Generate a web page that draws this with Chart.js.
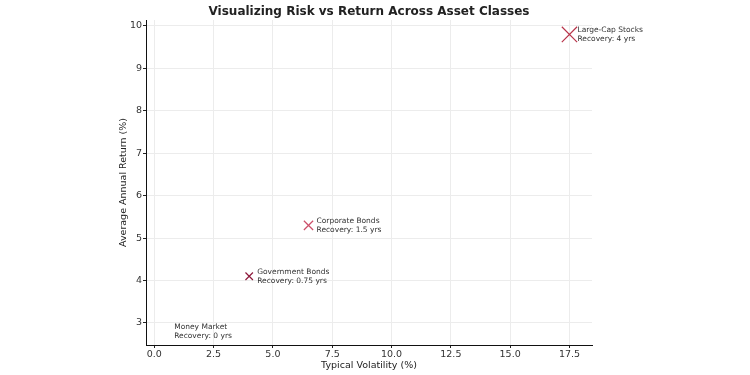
<!DOCTYPE html>
<html>
<head>
<meta charset="utf-8">
<script src="https://cdn.jsdelivr.net/npm/chart.js@4.4.1/dist/chart.umd.min.js"></script>
<style>
  html, body { margin: 0; padding: 0; background: #fff; }
  #wrap { width: 750px; height: 375px; }
</style>
</head>
<body>
<div id="wrap"><canvas id="riskChart" width="750" height="375"></canvas></div>
<script>
var assets = ["Money Market", "Government Bonds", "Corporate Bonds", "Large-Cap Stocks"];
var volatility = [0.5, 4, 6.5, 17.5];
var annualReturn = [2.8, 4.1, 5.3, 9.8];
var recoveryYears = [0, 0.75, 1.5, 4];
var markerColors = ["#b03050", "#8e1a3c", "#cc4f6a", "#b8344a"];
var xTicks = [0, 2.5, 5, 7.5, 10, 12.5, 15, 17.5];
var yTicks = [3, 4, 5, 6, 7, 8, 9, 10];

var FONT = "'DejaVu Sans', sans-serif";
var TITLE = "Visualizing Risk vs Return Across Asset Classes";

// marker size grows with recovery time
function markerRadius(yrs) {
    if (yrs <= 0) return 0;
    return 4 + yrs * 1.7;
}

var points = volatility.map(function (v, i) {
    return { x: v, y: annualReturn[i] };
});

// title centred over the plot area, like matplotlib does it
var plotTitle = {
    id: 'plotTitle',
    afterDraw: function (chart) {
        var ctx = chart.ctx, area = chart.chartArea;
        ctx.save();
        ctx.font = "bold 12px " + FONT;
        ctx.fillStyle = "#222";
        ctx.textAlign = "center";
        ctx.textBaseline = "middle";
        ctx.fillText(TITLE, (area.left + area.right) / 2, 12);
        ctx.restore();
    }
};

// writes "name / Recovery" next to each point
var pointLabels = {
    id: 'pointLabels',
    afterDatasetsDraw: function (chart) {
        var ctx = chart.ctx;
        var xs = chart.scales.x, ys = chart.scales.y;
        ctx.save();
        ctx.font = "7.5px " + FONT;
        ctx.fillStyle = "#333";
        ctx.textBaseline = "middle";
        ctx.textAlign = "left";
        points.forEach(function (p, i) {
            var px = xs.getPixelForValue(p.x) + 8;
            var py = ys.getPixelForValue(p.y);
            ctx.fillText(assets[i], px, py - 4.5);
            ctx.fillText("Recovery: " + recoveryYears[i] + " yrs", px, py + 4.5);
        });
        ctx.restore();
    }
};

var ctx = document.getElementById("riskChart").getContext("2d");
new Chart(ctx, {
    type: 'scatter',
    data: {
        datasets: [{
            data: points,
            pointStyle: 'crossRot',
            pointRadius: recoveryYears.map(markerRadius),
            pointHoverRadius: recoveryYears.map(markerRadius),
            borderColor: markerColors,
            backgroundColor: markerColors,
            pointBorderWidth: 1.2
        }]
    },
    options: {
        responsive: false,
        animation: false,
        events: [],
        layout: { padding: { left: 118, right: 158, top: 20, bottom: 0 } },
        plugins: {
            legend: { display: false },
            tooltip: { enabled: false },
            title: { display: false }
        },
        scales: {
            x: {
                type: 'linear',
                min: -0.35,
                max: 18.45,
                afterBuildTicks: function (s) { s.ticks = xTicks.map(function (v) { return { value: v }; }); },
                afterFit: function (s) { s.height = 30; },
                ticks: {
                    color: "#333",
                    font: { family: FONT, size: 9.5 },
                    padding: 1,
                    maxRotation: 0,
                    callback: function (v) { return v.toFixed(1); }
                },
                grid: { color: "#ececec", tickColor: "#222", tickLength: 3 },
                border: { display: true, color: "#111", width: 1 },
                title: {
                    display: true,
                    text: "Typical Volatility (%)",
                    color: "#222",
                    font: { family: FONT, size: 9.5 },
                    padding: { top: 0, bottom: 4 }
                }
            },
            y: {
                type: 'linear',
                min: 2.48,
                max: 10.14,
                afterBuildTicks: function (s) { s.ticks = yTicks.map(function (v) { return { value: v }; }); },
                afterFit: function (s) { s.width = 28; },
                ticks: {
                    color: "#333",
                    font: { family: FONT, size: 9.5 },
                    padding: 1
                },
                grid: { color: "#ececec", tickColor: "#222", tickLength: 3 },
                border: { display: true, color: "#111", width: 1 },
                title: {
                    display: true,
                    text: "Average Annual Return (%)",
                    color: "#222",
                    font: { family: FONT, size: 9.5 },
                    padding: { top: 0, bottom: 0 }
                }
            }
        }
    },
    plugins: [plotTitle, pointLabels]
});
</script>
</body>
</html>
